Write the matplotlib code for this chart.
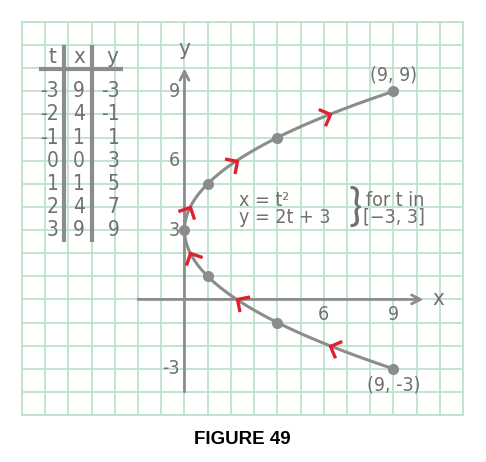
import numpy as np
import matplotlib.pyplot as plt
from matplotlib.path import Path
from matplotlib.markers import MarkerStyle
from matplotlib.transforms import Affine2D

# table / curve data
t_vals = [-3, -2, -1, 0, 1, 2, 3]
x_vals = [9, 4, 1, 0, 1, 4, 9]
y_vals = [-3, -1, 1, 3, 5, 7, 9]

x_ticks = [6, 9]
y_ticks = [-3, 3, 6, 9]

grid_col = '#bfe2cb'
gray = '#8c8c8c'
text_col = '#707070'
red = '#e0202f'
hand = dict(family='DejaVu Sans', stretch='condensed', color=text_col)

fig = plt.figure(figsize=(4.86, 4.62), dpi=100)
ax = fig.add_axes([22 / 486, 47 / 462, 441 / 486, 393 / 462])
ax.set_xlim(-7, 12)
ax.set_ylim(-5, 12)

# graph paper
ax.set_xticks(range(-7, 13))
ax.set_yticks(range(-5, 13))
ax.grid(True, color=grid_col, lw=1.3)
ax.tick_params(length=0, labelbottom=False, labelleft=False)
for s in ax.spines.values():
    s.set_color(grid_col)
    s.set_linewidth(1.3)

# axes with open arrowheads
ax.annotate('', xy=(0, 10), xytext=(0, -4),
            arrowprops=dict(arrowstyle='->', color=gray, lw=2, mutation_scale=16,
                            shrinkA=0, shrinkB=0))
ax.annotate('', xy=(10.3, 0), xytext=(-2, 0),
            arrowprops=dict(arrowstyle='->', color=gray, lw=2, mutation_scale=16,
                            shrinkA=0, shrinkB=0))
ax.text(0, 10.4, 'y', fontsize=16, ha='center', va='bottom', **hand)
ax.text(10.7, 0, 'x', fontsize=16, ha='left', va='center', **hand)

for v in x_ticks:
    ax.text(v, -0.65, str(v), fontsize=14, ha='center', va='center', **hand)
for v in y_ticks:
    ax.text(-0.2, v, str(v), fontsize=14, ha='right', va='center', **hand)

# smooth curve through the table points (x as quadratic in y)
coef = np.polyfit(y_vals, x_vals, 2)
ys = np.linspace(min(y_vals), max(y_vals), 300)
ax.plot(np.polyval(coef, ys), ys, color=gray, lw=2.2, zorder=3)
ax.plot(x_vals, y_vals, 'o', color=gray, ms=7, zorder=4)

# direction chevrons midway between points
chev = Path([(-1, 1), (0, 0), (-1, -1)], [Path.MOVETO, Path.LINETO, Path.LINETO])
dcoef = np.polyder(coef)
for i in range(len(y_vals) - 1):
    ym = (y_vals[i] + y_vals[i + 1]) / 2
    xm = np.polyval(coef, ym)
    ang = np.degrees(np.arctan2(1, np.polyval(dcoef, ym)))
    m = MarkerStyle(chev, transform=Affine2D().rotate_deg(ang))
    ax.plot(xm, ym, marker=m, ms=13, mfc='none', mec=red, mew=2.4, zorder=5)

# point labels
ax.text(x_vals[-1], y_vals[-1] + 0.7, '(%d, %d)' % (x_vals[-1], y_vals[-1]),
        fontsize=14, ha='center', va='center', **hand)
ax.text(x_vals[0], y_vals[0] - 0.7, '(%d, %d)' % (x_vals[0], y_vals[0]),
        fontsize=14, ha='center', va='center', **hand)

# equations
ax.text(2.35, 4.3, 'x = t\u00b2', fontsize=14, va='center', **hand)
ax.text(2.35, 3.55, 'y = 2t + 3', fontsize=14, va='center', **hand)
ax.text(7.35, 3.95, '}', family=['Lato', 'DejaVu Sans'], fontsize=32, fontweight='normal',
        color=text_col, ha='center', va='center')
ax.text(7.8, 4.3, 'for t in', fontsize=14, va='center', **hand)
ax.text(7.7, 3.55, '[\u22123, 3]', fontsize=14, va='center', **hand)

# value table
ax.plot([-6.25, -2.65], [9.95, 9.95], color=gray, lw=3, solid_capstyle='butt')
ax.plot([-5.17, -5.17], [11, 2.5], color=gray, lw=3, solid_capstyle='butt')
ax.plot([-3.97, -3.97], [11, 2.5], color=gray, lw=3, solid_capstyle='butt')
ax.text(-5.7, 10.5, 't', fontsize=16, ha='center', va='center', **hand)
ax.text(-4.55, 10.5, 'x', fontsize=16, ha='center', va='center', **hand)
ax.text(-3.1, 10.5, 'y', fontsize=16, ha='center', va='center', **hand)
for i in range(len(t_vals)):
    row = 9 - i
    ax.text(-5.42, row, str(t_vals[i]), fontsize=15, ha='right', va='center', **hand)
    ax.text(-4.55, row, str(x_vals[i]), fontsize=15, ha='center', va='center', **hand)
    ax.text(-2.8, row, str(y_vals[i]), fontsize=15, ha='right', va='center', **hand)

fig.text(242 / 486, 1 - 439 / 462, 'FIGURE 49', family=['Liberation Sans', 'DejaVu Sans'],
         fontsize=13.5, fontweight='bold', ha='center', va='center', color='black')

fig.savefig('out.png', dpi=100)
